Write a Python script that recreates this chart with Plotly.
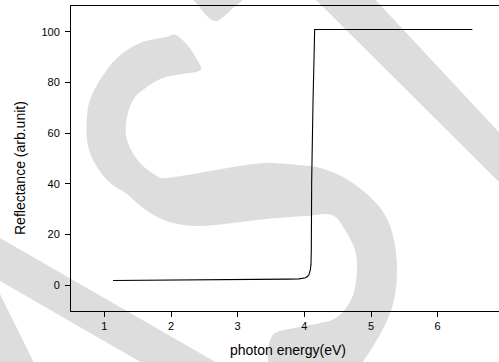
import plotly.graph_objects as go

# Reflectance spectrum: photon energy (eV) vs reflectance (arb. unit)
energy = [1.13, 1.5, 1.92, 2.5, 3.0, 3.42, 3.75, 3.92, 3.98, 4.02, 4.05, 4.07,
          4.09, 4.10, 4.105, 4.11, 4.13, 4.155, 4.5, 5.0, 5.5, 6.0, 6.52]
reflectance = [1.86, 1.9, 1.97, 2.08, 2.17, 2.25, 2.38, 2.5, 2.6, 2.9, 3.5, 4.2,
               6.0, 8.2, 14.7, 41.0, 72.0, 100.9, 100.9, 100.9, 100.9, 100.9, 100.9]

x_ticks = [1, 2, 3, 4, 5, 6]
y_ticks = [0, 20, 40, 60, 80, 100]

W, H = 499, 362
ML, MR, MT, MB = 71, 0, 6, 51

# Background "S" emblem outlines, in canvas pixels (converted to paper units below)
emblem_s = [(166, 37), (176, 35), (189, 47), (199, 63), (201, 68), (196, 72), (166, 77),
            (147, 87), (133, 100), (126, 123), (128, 143), (140, 163), (157, 176), (166, 178),
            (199, 173), (233, 167), (266, 163), (299, 165), (320, 168), (345, 178), (368, 195),
            (385, 215), (394, 240), (397, 270), (394, 300), (385, 325), (372, 348), (363, 362),
            (358, 375), (266, 375), (268, 362), (268, 350), (272, 336), (280, 331), (300, 327),
            (320, 323), (332, 320), (343, 312), (353, 295), (357, 271), (355, 250), (345, 230),
            (332, 215), (306, 216), (266, 219), (233, 223), (196, 226), (166, 221), (143, 208),
            (127, 194), (108, 181), (93, 160), (87, 140), (87, 117), (90, 100), (100, 80),
            (117, 58), (140, 43)]
emblem_band_left = [(-10, 232), (0, 238), (238, 375), (163, 375), (0, 281), (-10, 275)]
emblem_band_low = [(0, 294), (40, 375), (-10, 375), (-10, 274)]
emblem_band_right = [(311, -5), (371, -5), (510, 144), (510, 193)]
emblem_tip = [(194, -5), (198, 5), (206, 15), (212, 20), (217, 21), (222, 18), (232, 9), (243, -5)]


def to_paper(pts):
    pw, ph = W - ML - MR, H - MT - MB
    return [((x - ML) / pw, (H - MB - y) / ph) for x, y in pts]


def path_of(pts):
    p = to_paper(pts)
    return "M " + " L ".join(f"{x:.5f},{y:.5f}" for x, y in p) + " Z"


def smooth_path_of(pts):
    # closed Catmull-Rom outline written as cubic Bezier segments
    p = to_paper(pts)
    n = len(p)
    d = [f"M {p[0][0]:.5f},{p[0][1]:.5f}"]
    for i in range(n):
        p0, p1, p2, p3 = p[i - 1], p[i], p[(i + 1) % n], p[(i + 2) % n]
        c1 = (p1[0] + (p2[0] - p0[0]) / 6, p1[1] + (p2[1] - p0[1]) / 6)
        c2 = (p2[0] - (p3[0] - p1[0]) / 6, p2[1] - (p3[1] - p1[1]) / 6)
        d.append(f"C {c1[0]:.5f},{c1[1]:.5f} {c2[0]:.5f},{c2[1]:.5f} {p2[0]:.5f},{p2[1]:.5f}")
    return " ".join(d) + " Z"


emblem_color = "#dddddd"
emblem_paths = [smooth_path_of(emblem_s), path_of(emblem_band_left), path_of(emblem_band_low),
                path_of(emblem_band_right), smooth_path_of(emblem_tip)]
shapes = [
    dict(type="path", xref="paper", yref="paper", path=d,
         fillcolor=emblem_color, line=dict(width=0), layer="below")
    for d in emblem_paths
]

font_family = "Liberation Sans, Arial, sans-serif"

fig = go.Figure(
    go.Scatter(x=energy, y=reflectance, mode="lines",
               line=dict(color="black", width=1.1), hoverinfo="skip")
)

fig.update_layout(
    width=W, height=H,
    margin=dict(l=ML, r=MR, t=MT, b=MB),
    paper_bgcolor="white",
    plot_bgcolor="rgba(0,0,0,0)",
    showlegend=False,
    shapes=shapes,
    font=dict(family=font_family, color="black", size=11),
    annotations=[
        dict(text="photon energy(eV)", xref="paper", yref="paper",
             x=(287.5 - ML) / (W - ML - MR), y=(H - MB - 350) / (H - MT - MB),
             xanchor="center", yanchor="middle", showarrow=False,
             font=dict(size=14, family=font_family, color="black")),
        dict(text="Reflectance (arb.unit)", xref="paper", yref="paper",
             x=(20 - ML) / (W - ML - MR), y=(H - MB - 168) / (H - MT - MB),
             xanchor="center", yanchor="middle", textangle=-90, showarrow=False,
             font=dict(size=14, family=font_family, color="black")),
    ],
)

fig.update_xaxes(
    range=[0.5, 6.92], tickvals=x_ticks, ticktext=[str(v) for v in x_ticks],
    showgrid=False, zeroline=False,
    showline=True, linecolor="black", linewidth=1, mirror=True,
    ticks="outside", ticklen=5, tickcolor="black", tickwidth=1,
    tickfont=dict(size=11, family=font_family, color="black"),
)
fig.update_yaxes(
    range=[-10.2, 110.2], tickvals=y_ticks, ticktext=[str(v) for v in y_ticks],
    showgrid=False, zeroline=False,
    showline=True, linecolor="black", linewidth=1,
    ticks="outside", ticklen=5, tickcolor="black", tickwidth=1,
    ticklabelstandoff=3,
    tickfont=dict(size=11, family=font_family, color="black"),
)

fig.write_html("out.html")
